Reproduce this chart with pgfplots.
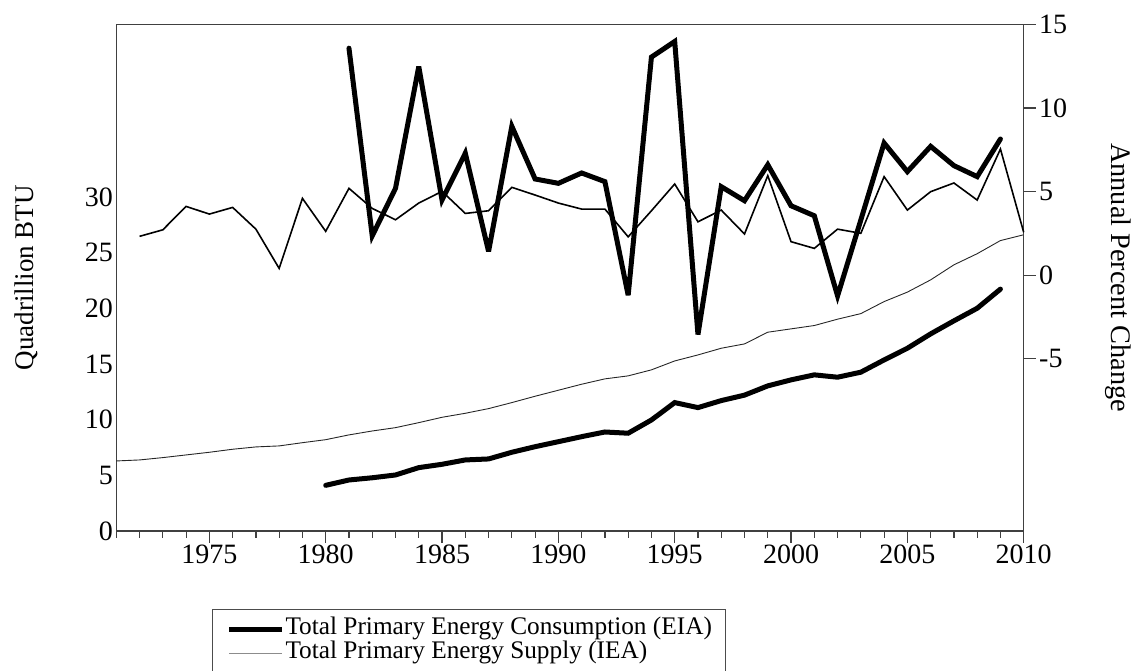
\documentclass[border=0pt]{standalone}
\usepackage{fontspec}
\setmainfont{Liberation Serif}
\usepackage{pgfplots}
\pgfplotsset{compat=1.18}
\tikzset{tk/.style={black!75, line width=1.2pt}}
\begin{document}
\begin{tikzpicture}
\pgfplotsset{
  base/.style={
    scale only axis, width=907.4pt, height=506.7pt,
    at={(116.3pt,140pt)}, anchor=south west,
    xmin=1971, xmax=2010, clip=false,
    /pgf/number format/assume math mode=true,
    /pgf/number format/1000 sep={},
    tick label style={font=\fontsize{28}{32}\selectfont},
    axis line style={black!75, line width=1.3pt},
    major tick length=0pt, minor tick length=0pt,
    tick style={draw=none},
  },
}
\begin{axis}[base,
  ymin=0, ymax=45.5,
  xtick={1975,1980,...,2010},
  xtick pos=lower, ytick pos=left,
  xticklabel style={yshift=-10pt},
  ytick={0,5,...,30},
  ylabel={Quadrillion BTU},
  ylabel style={at={(axis description cs:-0.099,0.5)}, anchor=center,
    font=\fontsize{27}{32}\selectfont},
  legend style={at={(axis description cs:0.1055,-0.1539)}, anchor=north west,
    draw=black!70, line width=1pt, inner xsep=14pt, inner ysep=8pt,
    row sep=0pt,
    nodes={font=\fontsize{25.3}{28}\selectfont, inner sep=0pt, text height=17pt, text depth=7pt},
    legend cell align=left},
  legend image code/.code={\draw[#1] (0pt,0pt) -- (53pt,0pt);},
]
\addlegendimage{black, line width=5pt}
\addlegendentry{\hspace{1pt}Total Primary Energy Consumption (EIA)}
\addlegendimage{black!45, line width=1pt}
\addlegendentry{\hspace{1pt}Total Primary Energy Supply (IEA)}
% x-axis tick marks (outside)
\pgfplotsinvokeforeach{1971,...,2010}{\draw[tk] (axis cs:#1,0) -- ++(0pt,-7pt);}
\pgfplotsinvokeforeach{1975,1980,...,2010}{\draw[tk] (axis cs:#1,0) -- ++(0pt,-12pt);}
% Supply level (IEA)
\addplot[black!85, line width=0.9pt, forget plot] coordinates {
(1971,6.29) (1972,6.38) (1973,6.59) (1974,6.83) (1975,7.07) (1976,7.34)
(1977,7.55) (1978,7.64) (1979,7.93) (1980,8.20) (1981,8.63) (1982,8.98)
(1983,9.28) (1984,9.73) (1985,10.21) (1986,10.57) (1987,10.99) (1988,11.53)
(1989,12.10) (1990,12.64) (1991,13.18) (1992,13.66) (1993,13.93) (1994,14.47)
(1995,15.27) (1996,15.81) (1997,16.41) (1998,16.80) (1999,17.85) (2000,18.15)
(2001,18.45) (2002,19.02) (2003,19.52) (2004,20.60) (2005,21.45) (2006,22.55)
(2007,23.90) (2008,24.90) (2009,26.08) (2010,26.60)};
% Consumption level (EIA)
\addplot[black, line width=5pt, line cap=round, forget plot] coordinates {
(1980,4.10) (1981,4.58) (1982,4.78) (1983,5.03) (1984,5.69) (1985,5.99)
(1986,6.38) (1987,6.47) (1988,7.07) (1989,7.57) (1990,8.02) (1991,8.47)
(1992,8.89) (1993,8.78) (1994,9.97) (1995,11.53) (1996,11.08) (1997,11.71)
(1998,12.20) (1999,13.03) (2000,13.57) (2001,14.02) (2002,13.81) (2003,14.26)
(2004,15.36) (2005,16.41) (2006,17.70) (2007,18.87) (2008,20.00) (2009,21.72)};
\end{axis}
\begin{axis}[base,
  ymin=-15.3, ymax=15,
  axis x line=none, axis y line*=right,
  ytick={-5,0,5,10,15},
  yticklabel style={xshift=12pt},
  ylabel={Annual Percent Change},
  ylabel style={at={(axis description cs:1.104,0.5)}, anchor=center, rotate=180,
    font=\fontsize{28.3}{32}\selectfont},
]
% right-axis tick marks (outside)
\pgfplotsinvokeforeach{-5,0,5,10,15}{\draw[tk] (axis cs:2010,#1) -- ++(12pt,0pt);}
% Supply annual % change
\addplot[black, line width=1.6pt] coordinates {
(1972,2.32) (1973,2.71) (1974,4.11) (1975,3.65) (1976,4.05) (1977,2.75)
(1978,0.40) (1979,4.59) (1980,2.62) (1981,5.19) (1982,3.99) (1983,3.31)
(1984,4.31) (1985,5.01) (1986,3.69) (1987,3.85) (1988,5.25) (1989,4.79)
(1990,4.31) (1991,3.95) (1992,3.95) (1993,2.29) (1994,3.85) (1995,5.45)
(1996,3.19) (1997,3.89) (1998,2.46) (1999,5.95) (2000,2.00) (2001,1.60)
(2002,2.75) (2003,2.50) (2004,5.89) (2005,3.89) (2006,4.99) (2007,5.51)
(2008,4.49) (2009,7.54) (2010,2.56)};
% Consumption annual % change
\addplot[black, line width=5pt, line cap=round, miter limit=4] coordinates {
(1981,13.57) (1982,2.35) (1983,5.19) (1984,12.47) (1985,4.49) (1986,7.29)
(1987,1.42) (1988,8.90) (1989,5.75) (1990,5.49) (1991,6.11) (1992,5.59)
(1993,-1.20) (1994,13.04) (1995,13.97) (1996,-3.55) (1997,5.29) (1998,4.45)
(1999,6.60) (2000,4.15) (2001,3.55) (2002,-1.24) (2003,3.30) (2004,7.90)
(2005,6.19) (2006,7.70) (2007,6.55) (2008,5.89) (2009,8.14)};
\end{axis}
\pgfresetboundingbox
\path[use as bounding box] (0pt,0pt) rectangle (1132pt,671pt);
\end{tikzpicture}
\end{document}
